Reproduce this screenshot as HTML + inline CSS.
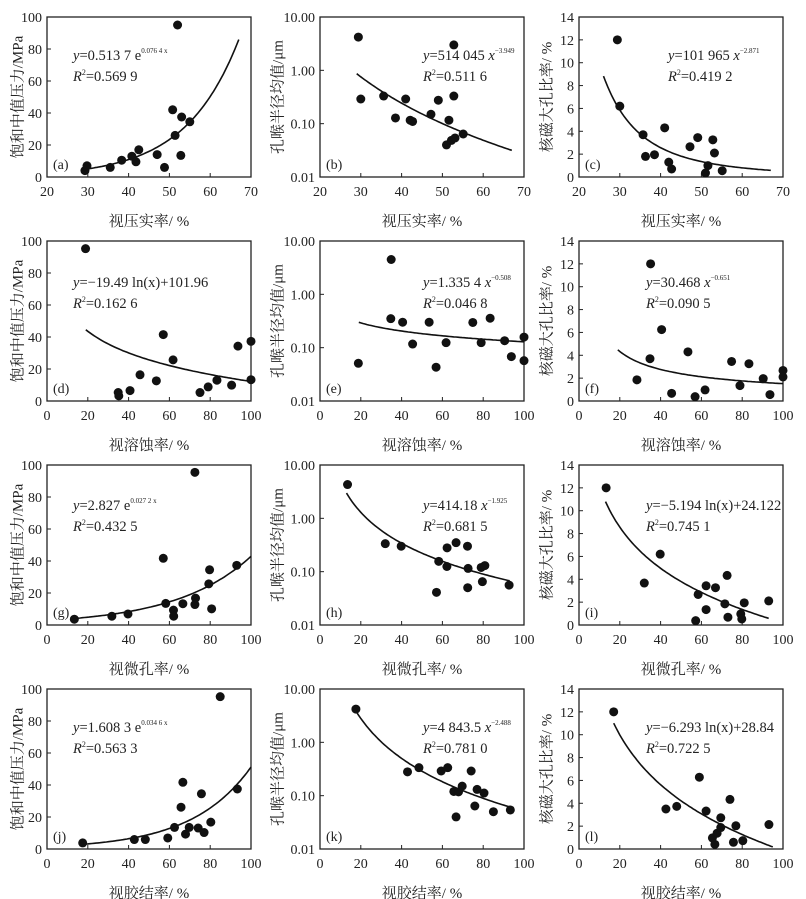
<!DOCTYPE html>
<html><head><meta charset="utf-8"><style>
html,body{margin:0;padding:0;background:#fff;}
svg{display:block;}
text{fill:#222;}
.tk{font-family:"Liberation Serif","Noto Serif CJK SC",serif;font-size:14px;}
.eq{font-family:"Liberation Serif",serif;font-size:14.5px;}
.ti{font-family:"Liberation Serif","Noto Serif CJK SC",serif;font-size:15px;}
</style></head><body>
<svg id="fig" width="806" height="899" viewBox="0 0 806 899" xmlns="http://www.w3.org/2000/svg"></svg>
<script>
// ---- data ----
const aX=[29.3,29.8,35.5,38.3,40.8,41.8,42.5,47,48.8,50.8,51.4,52,52.8,53,55];
const aY=[4,7,6,10.5,13,9.5,17,14,6,42,26,95,13.5,37.5,34.5];
const bX=[29.4,30,35.6,38.5,41,42.1,42.7,47.2,49,52.8,51.6,51.0,52.2,52.8,53.1,55.1];
const bY=[4.2,0.29,0.33,0.128,0.29,0.116,0.11,0.15,0.275,3.0,0.116,0.040,0.0485,0.33,0.054,0.064];
const cX=[29.4,30,35.7,36.3,38.5,41,42,42.7,47.2,49.1,51,51.6,52.8,53.2,55.1];
const cY=[12,6.2,3.7,1.8,1.95,4.3,1.3,0.7,2.65,3.45,0.35,1.0,3.25,2.1,0.55];
const dX=[18.9,34.9,35.2,40.7,45.6,53.6,57,61.8,75,79,83.3,90.5,93.6,100,100];
const dY=[95.2,5.3,3.2,6.5,16.4,12.6,41.5,25.7,5.3,8.8,13,9.9,34.3,37.3,13.3];
const eX=[18.8,34.9,34.7,40.5,45.4,53.5,56.9,61.8,74.9,79,83.4,90.5,93.8,100,100];
const eY=[0.051,4.5,0.35,0.30,0.117,0.30,0.043,0.124,0.297,0.124,0.357,0.135,0.068,0.158,0.057];
const fX=[28.4,35.1,34.8,40.5,45.4,53.4,56.9,61.8,74.8,78.9,83.3,90.3,93.6,100,100];
const fY=[1.85,12,3.7,6.25,0.67,4.3,0.38,0.97,3.46,1.35,3.26,1.96,0.56,2.67,2.11];
const gX=[13.4,31.8,39.7,57,58.2,62,62.1,66.6,72.5,72.5,72.8,79.3,79.7,80.7,93];
const gY=[3.6,5.5,6.9,41.7,13.5,9.3,5.5,13.3,95.4,12.8,16.8,25.7,34.5,10.1,37.3];
const hX=[13.5,32,39.8,57.1,58.2,62.2,62.3,66.7,72.3,72.6,72.4,79,80.8,79.6,92.7];
const hY=[4.3,0.335,0.30,0.041,0.156,0.125,0.28,0.35,0.30,0.115,0.050,0.12,0.13,0.065,0.056];
const iX=[13.3,32,39.8,57.2,58.4,62.3,62.3,66.9,71.5,72.6,73,79.3,79.8,81,93];
const iY=[12,3.67,6.2,0.38,2.67,1.35,3.43,3.26,1.85,4.34,0.68,0.97,0.53,1.94,2.11];
const jX=[17.5,42.8,48.2,59.2,62.5,65.7,66.6,67.9,69.7,74.1,75.7,77,80.3,84.9,93.3];
const jY=[3.8,5.9,5.9,6.9,13.5,26.1,41.7,9.3,13.5,13.1,34.5,10.3,16.8,95.2,37.5];
const kX=[17.6,42.9,48.5,59.4,62.6,65.6,66.7,67.9,69.7,74.1,75.9,77,80.4,85,93.3];
const kY=[4.2,0.28,0.335,0.29,0.335,0.12,0.040,0.118,0.151,0.29,0.064,0.131,0.112,0.050,0.054];
const lX=[17,42.6,47.9,59,62.3,65.4,66.6,67.7,69.5,69.5,74,75.7,76.9,80.3,93.1];
const lY=[12,3.5,3.73,6.28,3.32,0.97,0.41,1.38,1.88,2.73,4.34,0.59,2.03,0.73,2.14];
// fit parameters [type, a, b, xmin, xmax]
const aFit=['exp',0.5137,0.0764,29,67];
const bFit=['pow',514045,-3.949,29,67];
const cFit=['pow',101965,-2.871,26,67];
const dFit=['log',-19.49,101.96,19,100];
const eFit=['pow',1.3354,-0.508,19,100];
const fFit=['pow',30.468,-0.651,19,100];
const gFit=['exp',2.827,0.0272,13,100];
const hFit=['pow',414.18,-1.925,13,93];
const iFit=['log',-5.194,24.122,13,93];
const jFit=['exp',1.6083,0.0346,19,100];
const kFit=['pow',4843.5,-2.488,18,95];
const lFit=['log',-6.293,28.84,17,95];
// tick labels
const xTicks1=[20,30,40,50,60,70];
const xTicks2=[0,20,40,60,80,100];
const yTicksP=[0,20,40,60,80,100];
const yTicksL=['0.01','0.10','1.00','10.00'];
const yTicksN=[0,2,4,6,8,10,12,14];
const xTitles=['视压实率/ %','视溶蚀率/ %','视微孔率/ %','视胶结率/ %'];
const yTitles=['饱和中值压力/MPa','孔喉半径均值/μm','核磁大孔比率/ %'];
const letters=['a','b','c','d','e','f','g','h','i','j','k','l'];
const eqs=[
 ['0.513 7 e','0.076 4 x','0.569 9','exp'],['514 045 ','−3.949','0.511 6','pow'],['101 965 ','−2.871','0.419 2','pow'],
 ['−19.49 ln(x)+101.96','','0.162 6','log'],['1.335 4 ','−0.508','0.046 8','pow'],['30.468 ','−0.651','0.090 5','pow'],
 ['2.827 e','0.027 2 x','0.432 5','exp'],['414.18 ','−1.925','0.681 5','pow'],['−5.194 ln(x)+24.122','','0.745 1','log'],
 ['1.608 3 e','0.034 6 x','0.563 3','exp'],['4 843.5 ','−2.488','0.781 0','pow'],['−6.293 ln(x)+28.84','','0.722 5','log']];
const X=[aX,bX,cX,dX,eX,fX,gX,hX,iX,jX,kX,lX];
const Y=[aY,bY,cY,dY,eY,fY,gY,hY,iY,jY,kY,lY];
const F=[aFit,bFit,cFit,dFit,eFit,fFit,gFit,hFit,iFit,jFit,kFit,lFit];

const NS='http://www.w3.org/2000/svg';
const svg=document.getElementById('fig');
function mk(tag,attrs,parent,txt){const e=document.createElementNS(NS,tag);for(const k in attrs)e.setAttribute(k,attrs[k]);if(txt!==undefined)e.textContent=txt;(parent||svg).appendChild(e);return e;}
const colL=[47,320,579], rowT=[17,241,465,689], W=204, H=160;
const eqOff=[[26,103,89],[26,103,67],[26,103,67],[26,103,67]];
const eqTop=[43,46,45,43];

for(let r=0;r<4;r++)for(let c=0;c<3;c++){
 const idx=r*3+c, L=colL[c], T=rowT[r], B=T+H, R=L+W;
 const g=mk('g',{});
 
 
 const xmin=r===0?20:0, xmax=r===0?70:100, xt=r===0?xTicks1:xTicks2;
 const sx=v=>L+(v-xmin)/(xmax-xmin)*W;
 let sy;
 if(c===0) sy=v=>B-v/100*H;
 else if(c===1) sy=v=>B-(Math.log10(v)+2)/3*H;
 else sy=v=>B-v/14*H;
 const box=mk('rect',{x:L,y:T,width:W,height:H,fill:'none',stroke:'#222','stroke-width':1.3},g);
 
 
 xt.forEach(v=>{const x=sx(v);
  mk('line',{x1:x,y1:B,x2:x,y2:B-4,stroke:'#222','stroke-width':1},g);
  const t=mk('text',{x:x,y:B+19,'text-anchor':'middle',class:'tk'},g,String(v));
  
  });
 let yt=c===0?yTicksP.map(v=>[v,String(v)]):c===1?yTicksL.map(s=>[parseFloat(s),s]):yTicksN.map(v=>[v,String(v)]);
 yt.forEach(([v,s])=>{const y=sy(v);
  mk('line',{x1:L,y1:y,x2:L+4,y2:y,stroke:'#222','stroke-width':1},g);
  const t=mk('text',{x:L-5,y:y+5,'text-anchor':'end',class:'tk'},g,s);
  
  });
 const xtt=mk('text',{x:L+W/2,y:B+49,'text-anchor':'middle',class:'ti'},g,xTitles[r]);
 
 
 const yx=[19,279,548][c], yc=T+H/2;
 const ytt=mk('text',{x:yx,y:yc,'text-anchor':'middle',class:'ti','dominant-baseline':'middle',transform:`rotate(-90 ${yx} ${yc})`},g,yTitles[c]);
 
 
 const pl=mk('text',{x:L+6,y:B-8,class:'tk'},g,'('+letters[idx]+')');
 
 
 const f=F[idx]; let d='';
 for(let i=0;i<=80;i++){const x=f[3]+(f[4]-f[3])*i/80;
  const y=f[0]==='exp'?f[1]*Math.exp(f[2]*x):f[0]==='pow'?f[1]*Math.pow(x,f[2]):f[1]*Math.log(x)+f[2];
  d+=(i?'L':'M')+sx(x).toFixed(1)+' '+sy(y).toFixed(1);}
 const p=mk('path',{d:d,fill:'none',stroke:'#111','stroke-width':1.6},g);
 
 
 X[idx].forEach((xv,i)=>{const pt=mk('circle',{cx:sx(xv),cy:sy(Y[idx][i]),r:4.5,fill:'#111'},g);
  
  });
 const e=eqs[idx], ex=L+eqOff[r][c], ey=T+eqTop[r];
 const et=mk('text',{x:ex,y:ey,class:'eq'},g);
 
 
 mk('tspan',{'font-style':'italic'},et,'y');
 mk('tspan',{},et,'='+e[0]);
 if(e[3]==='pow'){mk('tspan',{'font-style':'italic'},et,'x');}
 if(e[1]){mk('tspan',{'font-size':'7px',dy:-7},et,e[1]);}
 const rt=mk('text',{x:ex,y:ey+21,class:'eq'},g);
 
 
 mk('tspan',{'font-style':'italic'},rt,'R');
 mk('tspan',{'font-size':'8px',dy:-6},rt,'2');
 mk('tspan',{dy:6},rt,'='+e[2]);
}
</script>
</body></html>
